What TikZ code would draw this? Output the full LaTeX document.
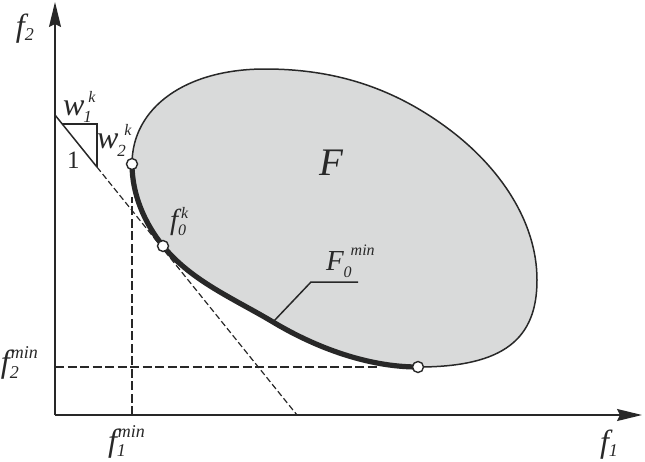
\documentclass[tikz,border=0pt]{standalone}
\usepackage{fontspec}
\setmainfont{Liberation Serif}
\usetikzlibrary{arrows.meta}
\definecolor{ink}{RGB}{40,40,40}
\definecolor{region}{RGB}{217,218,218}
\newcommand\fsz[1]{\fontsize{#1}{#1}\selectfont}
\tikzset{
  lbl/.style={inner sep=0pt, outer sep=0pt, anchor=base west, text=ink, font=\itshape},
  axis/.style={draw=ink, line width=1.8pt, -{Stealth[length=25pt,width=12pt,inset=3pt]}},
  guide/.style={draw=ink, line width=1.2pt, dash pattern=on 9pt off 3.5pt},
  tangent/.style={draw=ink, line width=1.2pt, dash pattern=on 6pt off 3pt},
  thin/.style={draw=ink, line width=1.5pt},
  pareto/.style={draw=ink, line width=5.2pt, line cap=round},
  dot/.style={draw=ink, fill=white, line width=1.4pt}
}
\begin{document}
\begin{tikzpicture}[x=1pt,y=-1pt]
\useasboundingbox (0,0) rectangle (645,461);
% key coordinates
\coordinate (O) at (55,415);
\coordinate (Xend) at (642,415);
\coordinate (Yend) at (55,2);
\coordinate (A) at (132,164);
\coordinate (B) at (163,246);
\coordinate (M) at (273,322);
\coordinate (C) at (418,367);
\coordinate (D) at (537,280);
\coordinate (G) at (450,130);
\coordinate (E) at (265,69);
\coordinate (tA) at (55,115);
\coordinate (tT1) at (62.3,124);
\coordinate (tT2) at (97,124);
\coordinate (tT3) at (97,167.1);
\coordinate (tE) at (297,415);
\coordinate (v1) at (132,415);
\coordinate (v2) at (132,197);
\coordinate (h1) at (55,367);
\coordinate (h2) at (378,367);
\coordinate (L1) at (311,282);
\coordinate (L2) at (358,282);
% guides
\draw[guide] (v1) -- (v2);
\draw[guide] (h1) -- (h2);
\draw[thin] (tA) -- (tT3);
\draw[tangent] (tT3) -- (tE);
\draw[thin] (tT1) -- (tT2) -- (tT3);
% feasible region
\fill[region] (A) .. controls (132,194) and (144.2,222.7) .. (B)
  .. controls (191.3,281) and (234.4,298.9) .. (M)
  .. controls (315.9,347.7) and (368,367) .. (C)
  .. controls (505,367) and (537,338) .. (D)
  .. controls (537,220) and (497.9,166.2) .. (G)
  .. controls (394.1,87.8) and (335,69) .. (E)
  .. controls (185,69) and (132,108) .. (A) -- cycle;
\draw[thin] (A) .. controls (132,194) and (144.2,222.7) .. (B)
  .. controls (191.3,281) and (234.4,298.9) .. (M)
  .. controls (315.9,347.7) and (368,367) .. (C)
  .. controls (505,367) and (537,338) .. (D)
  .. controls (537,220) and (497.9,166.2) .. (G)
  .. controls (394.1,87.8) and (335,69) .. (E)
  .. controls (185,69) and (132,108) .. (A) -- cycle;
% Pareto front
\draw[pareto] (A) .. controls (132,194) and (144.2,222.7) .. (B)
  .. controls (191.3,281) and (234.4,298.9) .. (M)
  .. controls (315.9,347.7) and (368,367) .. (C);
\draw[thin] (M) -- (L1) -- (L2);
\draw[dot] (A) circle[radius=5.5pt];
\draw[dot] (B) circle[radius=5.5pt];
\draw[dot] (C) circle[radius=5.5pt];
% axes
\draw[axis] (O) -- (Yend);
\draw[axis] (O) -- (Xend);
% labels
\node[lbl] (lf2) at (16,36) {\fsz{32}f\raisebox{-4pt}{\fsz{18}2}};
\node[lbl] (lf1) at (600,452) {\fsz{32}f\raisebox{-4pt}{\fsz{18}1}};
\node[lbl] (lf2min) at (1,372) {\fsz{32}f\rlap{\raisebox{-6pt}{\fsz{18}2}}\kern1pt\raisebox{14pt}{\fsz{18}min}};
\node[lbl] (lf1min) at (108,451) {\fsz{32}f\rlap{\raisebox{-5pt}{\fsz{18}1}}\kern1pt\raisebox{14pt}{\fsz{18}min}};
\node[lbl] (lw1) at (63,115) {\fsz{32}w\kern-1pt\rlap{\raisebox{-7pt}{\fsz{17}1}}\kern5pt\raisebox{13pt}{\fsz{16}k}};
\node[lbl] (lone) at (67,168) {\fsz{25}\upshape 1};
\node[lbl] (lw2) at (97,148) {\fsz{32}w\kern-1pt\rlap{\raisebox{-8pt}{\fsz{17}2}}\kern7pt\raisebox{13pt}{\fsz{16}k}};
\node[lbl] (lf0) at (170,229) {\fsz{29}f\rlap{\raisebox{-6pt}{\fsz{16}0}}\kern3pt\raisebox{11pt}{\fsz{16}k}};
\node[lbl] (lF) at (319,175) {\fsz{39}F};
\node[lbl] (lF0) at (326,270) {\fsz{29}F\rlap{\raisebox{-7pt}{\fsz{16}0}}\kern7pt\raisebox{15pt}{\fsz{16}min}};
\end{tikzpicture}
\end{document}
